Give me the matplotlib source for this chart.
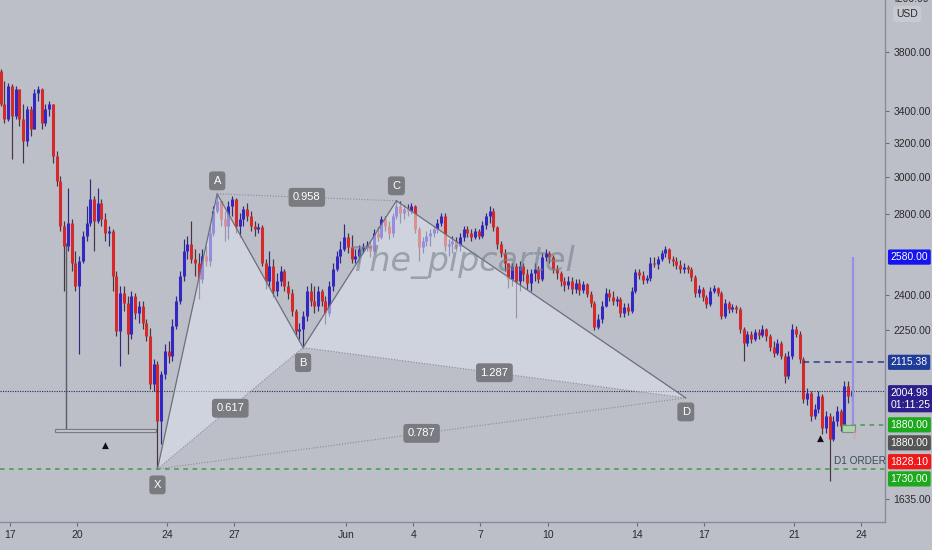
import matplotlib
matplotlib.use('Agg')
import matplotlib.pyplot as plt
import matplotlib.transforms as mtrans
from matplotlib.patches import Polygon, Rectangle
from matplotlib.ticker import FixedLocator, FixedFormatter, NullLocator
import numpy as np
import pandas as pd

# ---------------- data (4h candles, ETHUSD) ----------------
first_open = 3666
close = [3445,3349,3564,3368,3544,3349,3213,3413,3287,3518,
         3544,3324,3413,3445,3124,2979,2737,2635,2752,2552,
         2444,2562,2685,2752,2880,2763,2858,2773,2701,2711,
         2491,2245,2412,2367,2233,2398,2323,2353,2279,2224,
         2032,2110,1895,2071,2162,2142,2266,2376,2491,2611,
         2645,2572,2552,2477,2586,2562,2701,2815,2869,2773,
         2737,2842,2880,2737,2773,2826,2789,2737,2721,2732,
         2552,2467,2538,2421,2467,2514,2444,2412,2331,2245,
         2254,2310,2421,2376,2353,2421,2376,2323,2444,2524,
         2586,2621,2680,2630,2572,2586,2621,2630,2640,2611,
         2701,2680,2773,2737,2701,2789,2842,2805,2826,2815,
         2842,2721,2630,2660,2685,2701,2721,2752,2789,2635,
         2645,2660,2635,2680,2721,2701,2680,2711,2685,2742,
         2789,2815,2732,2645,2601,2552,2477,2538,2467,2538,
         2500,2458,2505,2524,2477,2581,2601,2581,2524,2505,
         2467,2449,2467,2430,2458,2426,2453,2407,2367,2262,
         2297,2353,2412,2394,2376,2385,2323,2349,2331,2421,
         2510,2496,2472,2481,2552,2548,2572,2601,2621,2572,
         2562,2543,2524,2533,2524,2486,2412,2430,2394,2362,
         2421,2435,2412,2310,2367,2340,2349,2340,2254,2195,
         2233,2212,2241,2228,2254,2224,2179,2154,2195,2142,
         2063,2142,2254,2233,2130,1975,1997,1913,1938,1986,
         1867,1913,1831,1895,1931,1877,2024,1986,2004.98]
high = [3680,3598,3584,3577,3564,3544,3445,3432,3432,3544,
        3564,3550,3445,3465,3445,3153,3007,2763,2940,2773,
        2611,2586,2711,2842,2990,2896,2940,2880,2805,2737,
        2721,2514,2444,2444,2398,2421,2412,2376,2376,2297,
        2258,2130,2122,2082,2191,2203,2297,2398,2514,2670,
        2685,2763,2621,2601,2621,2635,2737,2842,2907,2869,
        2815,2869,2896,2885,2805,2842,2858,2815,2763,2752,
        2742,2572,2611,2572,2505,2538,2524,2467,2430,2340,
        2279,2331,2444,2458,2444,2444,2430,2398,2467,2552,
        2611,2660,2747,2701,2690,2621,2640,2650,2660,2660,
        2721,2732,2789,2789,2763,2805,2874,2869,2847,2853,
        2858,2847,2732,2680,2711,2721,2737,2773,2805,2805,
        2670,2685,2680,2701,2737,2737,2721,2726,2721,2763,
        2805,2842,2831,2737,2660,2621,2552,2552,2552,2562,
        2552,2524,2524,2552,2538,2601,2621,2611,2591,2543,
        2514,2486,2491,2486,2477,2477,2467,2458,2421,2376,
        2318,2376,2435,2430,2421,2398,2394,2367,2367,2440,
        2524,2524,2514,2496,2581,2581,2586,2616,2635,2626,
        2586,2581,2567,2552,2543,2533,2496,2449,2440,2403,
        2440,2449,2440,2421,2385,2376,2362,2358,2349,2262,
        2245,2245,2254,2254,2271,2258,2233,2203,2212,2203,
        2154,2162,2275,2266,2245,2138,2017,2005,1956,2005,
        1993,1931,1924,1913,1949,1938,2043,2043,2013]
low = [3432,3324,3336,3106,3349,3305,3082,3183,3244,3287,
       3465,3287,3305,3368,3082,2951,2711,2421,2611,2514,
       2421,2150,2552,2660,2737,2611,2752,2737,2660,2635,
       2421,2224,2102,2331,2150,2212,2297,2279,2254,2203,
       2013,2005,1730,1814,2051,2114,2122,2254,2362,2467,
       2572,2552,2491,2385,2458,2538,2538,2685,2805,2737,
       2660,2670,2789,2701,2680,2737,2763,2711,2685,2701,
       2538,2430,2444,2394,2398,2444,2421,2385,2310,2224,
       2212,2175,2288,2353,2323,2331,2353,2275,2310,2421,
       2514,2552,2611,2601,2552,2552,2552,2601,2611,2581,
       2601,2660,2670,2711,2670,2680,2773,2752,2773,2789,
       2800,2701,2562,2601,2635,2635,2680,2701,2737,2611,
       2586,2601,2611,2611,2660,2680,2660,2670,2670,2675,
       2721,2752,2711,2621,2581,2514,2435,2444,2301,2421,
       2467,2430,2421,2467,2458,2467,2562,2552,2505,2477,
       2444,2421,2430,2407,2412,2403,2412,2394,2349,2250,
       2254,2279,2349,2376,2358,2353,2305,2305,2314,2323,
       2412,2477,2453,2458,2467,2533,2524,2562,2581,2552,
       2538,2524,2505,2505,2505,2467,2394,2394,2376,2345,
       2353,2412,2398,2297,2301,2323,2327,2323,2237,2122,
       2183,2195,2203,2212,2220,2203,2162,2138,2146,2130,
       2036,2051,2130,2220,2114,1960,1953,1895,1902,1924,
       1849,1852,1692,1824,1877,1859,1867,1960,1967]
start_time = '2021-05-16 14:00'

# harmonic pattern points
pattern_names = ['X', 'A', 'B', 'C', 'D']
pattern_dates = ['2021-05-23 14:00', '2021-05-26 06:00', '2021-05-30 02:00',
                 '2021-06-03 06:00', '2021-06-16 04:00']
pattern_prices = [1730, 2907, 2175, 2869, 1978]
ratio_labels = ['0.617', '0.958', '1.287', '0.787']   # XB, AC, BD, XD

# x axis ticks
tick_dates = ['2021-05-17', '2021-05-20', '2021-05-24', '2021-05-27', '2021-06-01',
              '2021-06-04', '2021-06-07', '2021-06-10', '2021-06-14', '2021-06-17',
              '2021-06-21', '2021-06-24']
tick_labels = ['17', '20', '24', '27', 'Jun', '4', '7', '10', '14', '17', '21', '24']
price_ticks = [3800, 3400, 3200, 3000, 2800, 2400, 2250, 1635]

# price levels
last_price = 2004.98
resist_level = 2115.38
entry_level = 1880.00
stop_level = 1828.10
sl_level = 1730.00
target_level = 2580.00

# ---------------- helpers ----------------
origin = pd.Timestamp('2021-05-17')
def day(t):
    return (pd.Timestamp(t) - origin) / pd.Timedelta('1D')

times = pd.date_range(start_time, periods=len(close), freq='4h')
x = np.array([day(t) for t in times])
closes = np.array(close, dtype=float)
opens = np.array([first_open] + close[:-1], dtype=float)
highs = np.array(high, dtype=float)
lows = np.array(low, dtype=float)

BG = '#bcbec8'
UP = '#3428c4'
DN = '#d62a2a'
FONT = ['Liberation Sans Narrow', 'Liberation Sans', 'DejaVu Sans']
plt.rcParams['font.family'] = FONT

fig = plt.figure(figsize=(9.32, 5.5), dpi=100, facecolor=BG)
ax = fig.add_axes([0, 28 / 550, 885 / 932, 522 / 550], facecolor=BG)
ax.set_yscale('log')
ax.set_ylim(1565, 4191)
ax.set_xlim(-0.446, 39.06)

# candles
up = closes >= opens
col = np.where(up, UP, DN)
wick = np.where(up, '#2e2a80', '#463640')
ax.vlines(x, lows, highs, colors=wick, lw=0.85, zorder=2)
ax.vlines(x, np.minimum(opens, closes), np.maximum(opens, closes),
          colors=col, lw=2.2, zorder=2.1)

# left structure (box + line)
ax.vlines(day('2021-05-19 12:00'), 1858, 2650, colors='#5c5c66', lw=1.0, zorder=1.5)
ax.add_patch(Rectangle((day('2021-05-19 00:00'), 1853), day('2021-05-23 12:30') - day('2021-05-19 00:00'),
                       13, fc='#c9cbd2', ec='#7b7b84', lw=0.9, zorder=1.6))
ax.text(day('2021-05-21 06:00'), 1810, '\u25B2', fontsize=6.5, color='#111', ha='center',
        va='center', family='DejaVu Sans', zorder=4)
ax.text(day('2021-06-22 04:00'), 1832, '\u25B2', fontsize=6.5, color='#111', ha='center',
        va='center', family='DejaVu Sans', zorder=4)

# horizontal levels
ax.axhline(last_price, color='#2a2a5c', lw=0.8, ls=(0, (1, 1.2)), zorder=3)
ax.axhline(sl_level, color='#3a9e4c', lw=1.1, ls=(0, (3, 3)), zorder=3)
ax.hlines(resist_level, day('2021-06-21 10:00'), 39.06, color='#283c8c', lw=1.1, ls=(0, (4, 3)), zorder=3)
ax.hlines(entry_level, day('2021-06-23 03:00'), 39.06, color='#3a9e4c', lw=1.1, ls=(0, (3, 3)), zorder=3)

# harmonic pattern
px = [day(d) for d in pattern_dates]
pp = pattern_prices
P = list(zip(px, pp))
ax.add_patch(Polygon([P[0], P[1], P[2]], closed=True, fc='#e0e5f0', alpha=0.55, ec='none', zorder=4))
ax.add_patch(Polygon([P[2], P[3], P[4]], closed=True, fc='#e0e5f0', alpha=0.55, ec='none', zorder=4))
for i in range(4):
    ax.plot([px[i], px[i + 1]], [pp[i], pp[i + 1]], color='#6c6e7c', lw=0.9, zorder=5)
pairs = [(0, 2), (1, 3), (2, 4), (0, 4)]
for (a, b), lab in zip(pairs, ratio_labels):
    ax.plot([px[a], px[b]], [pp[a], pp[b]], color='#8a8c98', lw=0.8, ls=(0, (1, 1.5)), zorder=5)
    mx = (px[a] + px[b]) / 2
    my = np.exp((np.log(pp[a]) + np.log(pp[b])) / 2)
    ax.text(mx, my, lab, fontsize=8, color='white', ha='center', va='center', zorder=7,
            bbox=dict(boxstyle='round,pad=0.4,rounding_size=0.3', fc='#7a7b80', ec='none'))
offsets = [-16, 13, -15, 15, -14]
for name, xx, yy, off in zip(pattern_names, px, pp, offsets):
    ax.annotate(name, (xx, yy), xytext=(0, off * 0.72), textcoords='offset points',
                fontsize=8, color='white', ha='center', va='center', zorder=7,
                bbox=dict(boxstyle='round,pad=0.4,rounding_size=0.3', fc='#7a7b80', ec='none'))

# position tool at the right
ax.add_patch(Rectangle((day('2021-06-23 03:00'), 1855), day('2021-06-23 17:00') - day('2021-06-23 03:00'),
                       entry_level - 1855, fc='#a9d6a9', ec='#7f8a80', lw=0.8, zorder=5))
ax.vlines(day('2021-06-23 15:00'), entry_level, target_level, colors='#9393e6', lw=1.6, zorder=5)
ax.vlines(day('2021-06-23 16:00'), 1830, 1866, colors='#e2a0a0', lw=1.0, zorder=5)
ax.text(day('2021-06-22 19:00'), 1757, 'D1 ORDER', fontsize=7.2, color='#3a4a55', ha='left',
        va='center', zorder=6)

# watermark
ax.text(0.522, 0.498, 'The_pipcartel', transform=ax.transAxes, fontsize=24, style='italic',
        color='#75818b', alpha=0.6, ha='center', va='center', zorder=6, family='DejaVu Sans')

# axes styling
for s in ['left', 'top']:
    ax.spines[s].set_visible(False)
for s in ['right', 'bottom']:
    ax.spines[s].set_color('#8a8b96')
    ax.spines[s].set_linewidth(1.0)
ax.yaxis.tick_right()
ax.yaxis.set_major_locator(FixedLocator(price_ticks))
ax.yaxis.set_major_formatter(FixedFormatter([f'{p:.2f}' for p in price_ticks]))
ax.yaxis.set_minor_locator(NullLocator())
ax.tick_params(axis='y', direction='out', length=3, color='#6a6b74', labelcolor='#2a2a2a',
               labelsize=7.5, pad=3)
ax.set_xticks([day(d) for d in tick_dates])
ax.set_xticklabels(tick_labels)
ax.tick_params(axis='x', direction='out', length=3, color='#6a6b74', labelcolor='#2a2a2a',
               labelsize=7.5, pad=3)

trans = mtrans.blended_transform_factory(ax.transAxes, ax.transData)
ax.annotate('4200.00', xy=(1, 4200), xycoords=trans, xytext=(5, 0), textcoords='offset points',
            fontsize=7.5, color='#2a2a2a', ha='left', va='center', annotation_clip=False)
ax.annotate('USD', xy=(1, 4191), xycoords=trans, xytext=(16, -10), textcoords='offset points',
            fontsize=7.5, color='#2a2a2a', ha='center', va='center', annotation_clip=False,
            bbox=dict(boxstyle='round,pad=0.3', fc='#c8cad2', ec='none'))

labels = [('2580.00', target_level, '#1414ee', 0),
          ('2115.38', resist_level, '#1e3c98', 0),
          ('2004.98\n01:11:25', last_price, '#2c1f8c', -8),
          ('1880.00', entry_level, '#1caa1c', 0),
          ('1880.00', entry_level, '#555555', -18),
          ('1828.10', stop_level, '#f01818', -22),
          ('1730.00', sl_level, '#1caa1c', -10)]
for txt, val, c, dy in labels:
    ax.annotate(txt, xy=(1, val), xycoords=trans, xytext=(4, dy * 0.72), textcoords='offset points',
                fontsize=7.5, color='white', ha='left', va='center', annotation_clip=False,
                linespacing=1.25, zorder=8,
                bbox=dict(boxstyle='round,pad=0.25,rounding_size=0.15', fc=c, ec='none'))

fig.savefig('out.png', dpi=100, facecolor=BG)
